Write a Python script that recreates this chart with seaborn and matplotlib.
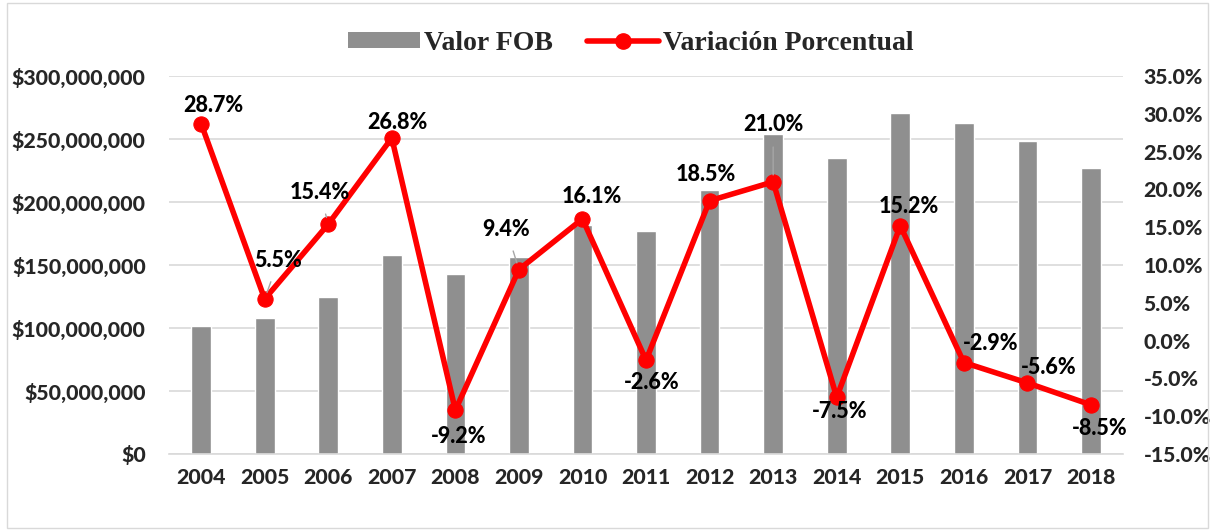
import numpy as np
import pandas as pd
import seaborn as sns
import matplotlib.pyplot as plt
from matplotlib.patches import Patch, Rectangle
from matplotlib.lines import Line2D
from matplotlib.ticker import FuncFormatter

# data
years = ["2004", "2005", "2006", "2007", "2008", "2009", "2010", "2011",
         "2012", "2013", "2014", "2015", "2016", "2017", "2018"]
valor_fob = [101.8e6, 107.7e6, 124.4e6, 157.7e6, 143.1e6, 156.6e6, 182.0e6, 177.0e6,
             209.8e6, 254.0e6, 234.7e6, 270.4e6, 262.7e6, 248.2e6, 227.0e6]
variacion = [28.7, 5.5, 15.4, 26.8, -9.2, 9.4, 16.1, -2.6,
             18.5, 21.0, -7.5, 15.2, -2.9, -5.6, -8.5]
# label offsets in points (dx, dy) and whether a leader line is drawn
label_offsets = [(9, 13), (10, 28), (-6, 23), (4, 11), (2, -19), (-9, 29), (7, 16), (4, -16),
                 (-3, 19), (0, 41), (2, -10), (6, 14), (19, 14), (15, 11), (6, -17)]
leaders = [False, True, True, False, False, True, False, False,
           False, True, False, False, False, False, False]

df = pd.DataFrame({"year": years, "fob": valor_fob, "var": variacion})

sns.set_style("white")
plt.rcParams["font.family"] = ["Lato", "DejaVu Sans"]
plt.rcParams["font.weight"] = 900

fig = plt.figure(figsize=(12.13, 5.30), dpi=100)
ax = fig.add_axes([0.1396, 0.1434, 0.786, 0.7132])

gray = "#8f8f8f"
red = "#ff0000"

sns.barplot(data=df, x="year", y="fob", color=gray, width=0.31, saturation=1, ax=ax, zorder=2)
ax.set_ylim(0, 300e6)
ax.set_yticks(np.arange(0, 300e6 + 1, 50e6))
ax.yaxis.set_major_formatter(FuncFormatter(lambda v, p: "$0" if v == 0 else f"${v:,.0f}"))
ax.grid(axis="y", color="#d9d9d9", lw=1.2, zorder=0)
ax.set_axisbelow(True)
ax.set_xlabel("")
ax.set_ylabel("")
ax.set_xlim(-0.5, len(years) - 0.5)

ax2 = ax.twinx()
xs = np.arange(len(years))
sns.lineplot(x=xs, y=variacion, color=red, lw=4, marker="o", markersize=11,
             markeredgecolor=red, ax=ax2, zorder=5)
ax2.set_ylim(-15, 35)
ax2.set_yticks(np.arange(-15, 36, 5))
ax2.yaxis.set_major_formatter(FuncFormatter(lambda v, p: f"{v:.1f}%"))
ax2.set_ylabel("")

for a in (ax, ax2):
    for s in a.spines.values():
        s.set_visible(False)
    a.tick_params(length=0, labelsize=15.3)
ax.tick_params(axis="x", pad=10)
ax.tick_params(axis="y", pad=17)
ax2.tick_params(axis="y", pad=15)
ax.spines["bottom"].set_visible(True)
ax.spines["bottom"].set_color("#d9d9d9")
ax.spines["bottom"].set_linewidth(1.2)

for i, v in enumerate(variacion):
    dx, dy = label_offsets[i]
    arrow = dict(arrowstyle="-", color="#a6a6a6", lw=1, shrinkA=6, shrinkB=5) if leaders[i] else None
    ax2.annotate(f"{v:.1f}%", xy=(i, v), xytext=(dx, dy), textcoords="offset points",
                 ha="center", va="center", fontsize=15.5, fontweight=900,
                 color="black", arrowprops=arrow, zorder=6)

handles = [Patch(facecolor=gray, edgecolor="none"),
           Line2D([0], [0], color=red, lw=4, marker="o", markersize=11)]
fig.legend(handles, ["Valor FOB", "Variación Porcentual"], loc="center",
           bbox_to_anchor=(0.52, 0.918), ncol=2, frameon=False, handlelength=2.6,
           handleheight=0.5, columnspacing=1.2, handletextpad=0.15,
           prop={"family": "Liberation Serif", "weight": "bold", "size": 20})

fig.patches.append(Rectangle((0.006, 0.004), 0.99, 0.99, transform=fig.transFigure,
                             fill=False, edgecolor="#d9d9d9", lw=1))

fig.savefig("out.png", dpi=100)
